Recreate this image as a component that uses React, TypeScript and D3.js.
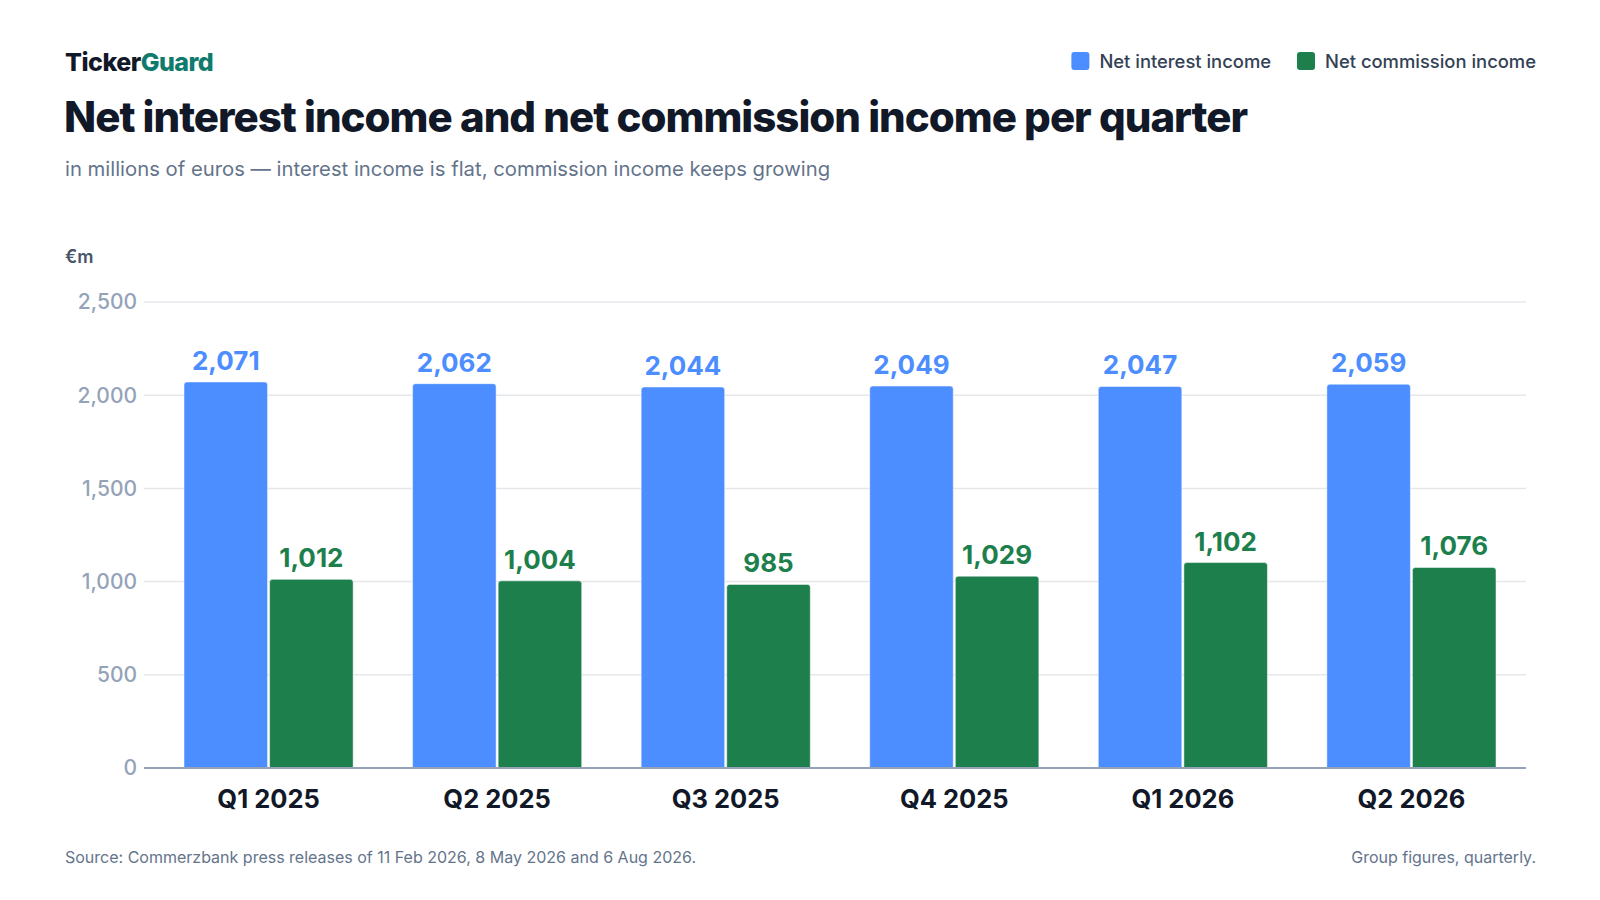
import { useEffect, useRef } from 'react'
import * as d3 from 'd3'

const QUARTERS = ['Q1 2025', 'Q2 2025', 'Q3 2025', 'Q4 2025', 'Q1 2026', 'Q2 2026']
const NET_INTEREST = [2071, 2062, 2044, 2049, 2047, 2059]
const NET_COMMISSION = [1012, 1004, 985, 1029, 1102, 1076]
const Y_TICKS = [0, 500, 1000, 1500, 2000, 2500]

const SERIES = [
  { key: 'interest', label: 'Net interest income', color: '#4c8dff', values: NET_INTEREST },
  { key: 'commission', label: 'Net commission income', color: '#1c7f4c', values: NET_COMMISSION },
]

const WIDTH = 1600
const HEIGHT = 900
const FONT = 'Inter, "Noto Sans", sans-serif'

export default function App() {
  const svgRef = useRef<SVGSVGElement>(null)

  useEffect(() => {
    document.body.style.margin = '0'
    if (!svgRef.current) return

    const svg = d3.select(svgRef.current)
    svg.selectAll('*').remove()
    svg.attr('width', WIDTH).attr('height', HEIGHT)

    svg.append('rect').attr('width', WIDTH).attr('height', HEIGHT).attr('fill', '#ffffff')

    const left = 144
    const right = 1526

    // Brand
    const brand = svg.append('text')
      .attr('x', 65)
      .attr('y', 71)
      .attr('font-family', FONT)
      .attr('font-size', 25)
      .attr('font-weight', 800)
      .attr('letter-spacing', -0.5)
    brand.append('tspan').attr('fill', '#111827').text('Ticker')
    brand.append('tspan').attr('fill', '#0f7b6c').text('Guard')

    // Title + subtitle
    svg.append('text')
      .attr('x', 64)
      .attr('y', 132)
      .attr('font-family', FONT)
      .attr('font-size', 42)
      .attr('font-weight', 800)
      .attr('letter-spacing', -1)
      .attr('fill', '#111827')
      .text('Net interest income and net commission income per quarter')

    svg.append('text')
      .attr('x', 65)
      .attr('y', 176)
      .attr('font-family', FONT)
      .attr('font-size', 20.3)
      .attr('fill', '#64748b')
      .text('in millions of euros — interest income is flat, commission income keeps growing')

    // Legend (right aligned)
    const legend = svg.append('g')
    let lx = 1536
    ;[...SERIES].reverse().forEach(s => {
      const t = legend.append('text')
        .attr('x', lx)
        .attr('y', 68)
        .attr('text-anchor', 'end')
        .attr('font-family', FONT)
        .attr('font-size', 18.4)
        .attr('font-weight', 500)
        .attr('fill', '#334155')
        .text(s.label)
      const w = (t.node() as SVGTextElement).getComputedTextLength()
      legend.append('rect')
        .attr('x', lx - w - 28)
        .attr('y', 52)
        .attr('width', 18)
        .attr('height', 18)
        .attr('rx', 3)
        .attr('fill', s.color)
      lx = lx - w - 28 - 26
    })

    // Scales
    const y = d3.scaleLinear().domain([0, 2500]).range([768, 302])

    const x0 = d3.scaleBand<string>()
      .domain(QUARTERS)
      .range([left, 1536])
      .paddingInner(0.26)
      .paddingOuter(0.175)

    const x1 = d3.scaleBand<string>()
      .domain(SERIES.map(s => s.key))
      .range([0, x0.bandwidth()])
      .paddingInner(0.024)

    // Unit label
    svg.append('text')
      .attr('x', 65)
      .attr('y', 263)
      .attr('font-family', FONT)
      .attr('font-size', 18)
      .attr('font-weight', 600)
      .attr('fill', '#475569')
      .text('€m')

    // Gridlines + y ticks
    const grid = svg.append('g')
    Y_TICKS.forEach(t => {
      if (t > 0) {
        grid.append('line')
          .attr('x1', left)
          .attr('x2', right)
          .attr('y1', y(t))
          .attr('y2', y(t))
          .attr('stroke', '#e5e7eb')
          .attr('stroke-width', 1.5)
      }
      grid.append('text')
        .attr('x', 137)
        .attr('y', y(t))
        .attr('dy', '0.35em')
        .attr('text-anchor', 'end')
        .attr('font-family', FONT)
        .attr('font-size', 21)
        .attr('font-weight', 500)
        .attr('fill', '#94a3b8')
        .text(d3.format(',')(t))
    })

    // Bars
    const barPath = (bx: number, by: number, bw: number, bh: number, r: number) =>
      `M${bx},${by + bh}V${by + r}Q${bx},${by} ${bx + r},${by}H${bx + bw - r}Q${bx + bw},${by} ${bx + bw},${by + r}V${by + bh}Z`

    const groups = svg.append('g')
      .selectAll('g')
      .data(QUARTERS)
      .join('g')
      .attr('transform', d => `translate(${x0(d)},0)`)

    SERIES.forEach(s => {
      groups.append('path')
        .attr('d', (_, i) => {
          const v = s.values[i]
          return barPath(x1(s.key)!, y(v), x1.bandwidth(), y(0) - y(v), 3)
        })
        .attr('fill', s.color)
        .attr('stroke', '#ffffff')
        .attr('stroke-opacity', 0.5)
        .attr('stroke-width', 1)

      groups.append('text')
        .attr('x', x1(s.key)! + x1.bandwidth() / 2)
        .attr('y', (_, i) => y(s.values[i]) - 12)
        .attr('text-anchor', 'middle')
        .attr('font-family', FONT)
        .attr('font-size', 26)
        .attr('font-weight', 700)
        .attr('fill', s.color)
        .text((_, i) => d3.format(',')(s.values[i]))
    })

    // Baseline
    svg.append('line')
      .attr('x1', left)
      .attr('x2', right)
      .attr('y1', y(0))
      .attr('y2', y(0))
      .attr('stroke', '#94a3b8')
      .attr('stroke-width', 2)

    // X labels
    groups.append('text')
      .attr('x', x0.bandwidth() / 2)
      .attr('y', 808)
      .attr('text-anchor', 'middle')
      .attr('font-family', FONT)
      .attr('font-size', 25.5)
      .attr('font-weight', 700)
      .attr('fill', '#111827')
      .text(d => d)

    // Footer
    svg.append('text')
      .attr('x', 65)
      .attr('y', 863)
      .attr('font-family', FONT)
      .attr('font-size', 16)
      .attr('fill', '#64748b')
      .text('Source: Commerzbank press releases of 11 Feb 2026, 8 May 2026 and 6 Aug 2026.')

    svg.append('text')
      .attr('x', 1536)
      .attr('y', 863)
      .attr('text-anchor', 'end')
      .attr('font-family', FONT)
      .attr('font-size', 16)
      .attr('fill', '#64748b')
      .text('Group figures, quarterly.')
  }, [])

  return <svg ref={svgRef} style={{ display: 'block' }} />
}
